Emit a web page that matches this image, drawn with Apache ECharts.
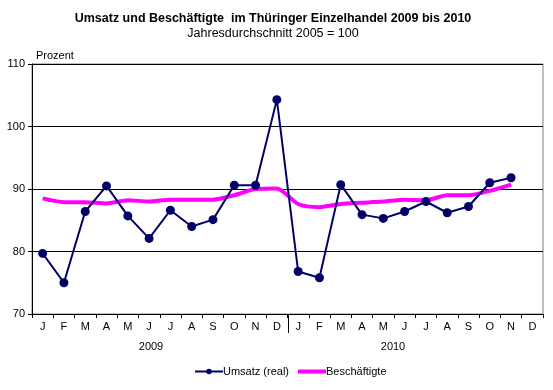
<!DOCTYPE html>
<html><head><meta charset="utf-8">
<script src="https://cdn.jsdelivr.net/npm/echarts@6/dist/echarts.min.js"></script>
<style>html,body{margin:0;padding:0;background:#fff}#c{width:553px;height:390px}</style>
</head><body><div id="c"></div>
<script>
const months = ['J','F','M','A','M','J','J','A','S','O','N','D','J','F','M','A','M','J','J','A','S','O','N','D'];
const years = ['2009','2010'];
const umsatz = [79.7,75.0,86.4,90.5,85.7,82.1,86.6,84.0,85.1,90.6,90.6,104.3,
                76.8,75.8,90.7,85.9,85.3,86.4,88.0,86.2,87.2,91.0,91.8,null];
const beschaeftigte = [88.5,87.9,87.9,87.7,88.2,88.0,88.3,88.3,88.3,89.0,90.0,90.1,
                       87.6,87.1,87.6,87.8,88.0,88.3,88.2,89.0,89.0,89.7,90.7,null];
const yTicks = {min:70, max:110, interval:10};
const FONT = 'Arial, "Liberation Sans", sans-serif';

const chart = echarts.init(document.getElementById('c'), null, {renderer:'canvas'});
const option = {
  animation:false,
  backgroundColor:'#fff',
  textStyle:{fontFamily:FONT},
  title:{
    text:'Umsatz und Beschäftigte  im Thüringer Einzelhandel 2009 bis 2010',
    subtext:'Jahresdurchschnitt 2005 = 100',
    left:268, textAlign:'center', top:7, itemGap:2,
    textStyle:{fontFamily:FONT,fontSize:12.5,fontWeight:'bold',color:'#000'},
    subtextStyle:{fontFamily:FONT,fontSize:12.5,color:'#000'}
  },
  grid:{left:32, right:10, top:64, bottom:76, show:true, borderColor:'#808080', borderWidth:1},
  legend:{
    left:189, top:361, itemWidth:28, itemHeight:7, itemGap:9,
    textStyle:{fontFamily:FONT,fontSize:11,color:'#000',padding:[0,0,0,-5]},
    data:[{name:'Umsatz (real)'},
          {name:'Beschäftigte',
           icon:'path://M0,0 L0.01,0 L0,0.01 Z M0,1.5 L28,1.5 L28,5.5 L0,5.5 Z M0,7 L0.01,7 L0,6.99 Z',
           itemStyle:{color:'#ff00ff'}}]
  },
  xAxis:[{
    type:'category', data:months, boundaryGap:true,
    axisLine:{lineStyle:{color:'#000',width:1}},
    axisTick:{show:true, interval:0, length:4, lineStyle:{color:'#000'}},
    axisLabel:{interval:0, fontFamily:FONT, fontSize:11, color:'#000', margin:7},
    splitLine:{show:false}
  }],
  yAxis:{
    type:'value', min:yTicks.min, max:yTicks.max, interval:yTicks.interval,
    name:'Prozent', nameLocation:'end', nameGap:3,
    nameTextStyle:{fontFamily:FONT,fontSize:11,color:'#000',align:'left',padding:[0,0,0,4]},
    axisLine:{show:true,lineStyle:{color:'#000'}},
    axisTick:{show:true,length:4,lineStyle:{color:'#000'}},
    axisLabel:{fontFamily:FONT,fontSize:11,color:'#000',margin:7},
    splitLine:{show:true,lineStyle:{color:'#000',width:1}}
  },
  series:[
    {name:'Umsatz (real)', type:'line', data:umsatz, z:3,
     symbol:'circle', symbolSize:9, showAllSymbol:true,
     lineStyle:{color:'#000066',width:2}, itemStyle:{color:'#000066'}},
    {name:'Beschäftigte', type:'line', data:beschaeftigte, z:2,
     symbol:'none', smooth:0.25,
     lineStyle:{color:'#ff00ff',width:4}, itemStyle:{color:'#ff00ff'}}
  ]
};
chart.setOption(option);

// year separator and year labels
const p11 = chart.convertToPixel({xAxisIndex:0}, 11);
const p12 = chart.convertToPixel({xAxisIndex:0}, 12);
const sepX = Math.round((p11+p12)/2) + 0.5;
const yBottom = chart.convertToPixel({yAxisIndex:0}, yTicks.min);
chart.setOption({
  graphic:[
    {type:'line', shape:{x1:sepX,y1:yBottom,x2:sepX,y2:yBottom+19}, style:{stroke:'#000',lineWidth:1}},
    {type:'text', x:151, y:347, style:{text:years[0], font:'11px '+FONT, fill:'#000', align:'center', verticalAlign:'middle'}},
    {type:'text', x:393, y:347, style:{text:years[1], font:'11px '+FONT, fill:'#000', align:'center', verticalAlign:'middle'}}
  ]
});
</script></body></html>
